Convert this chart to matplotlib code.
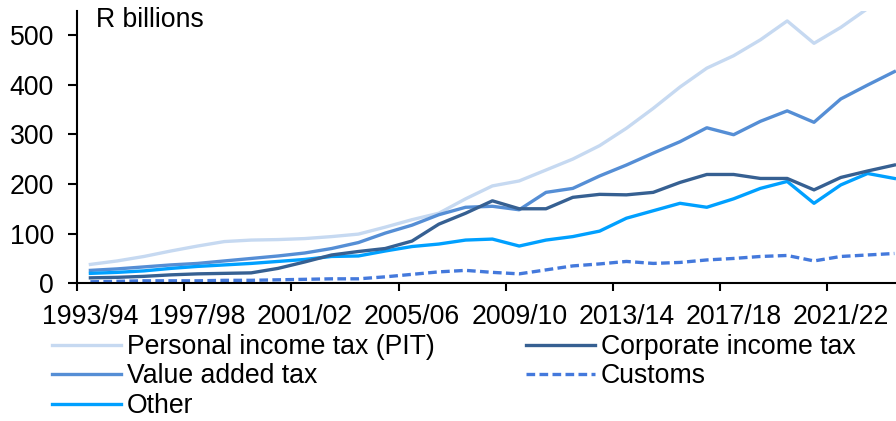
import matplotlib
matplotlib.use("Agg")
import matplotlib.pyplot as plt
import numpy as np

plt.rcParams['font.family'] = ['Liberation Sans', 'DejaVu Sans']

# Tax revenue by type, R billions, 1993/94 - 2023/24
years = [f"{y}/{str(y + 1)[-2:]}" for y in range(1993, 2024)]

pit = [38, 45, 54, 65, 75, 84, 87, 88, 90, 94, 99, 113, 128, 141, 170, 196,
       206, 228, 250, 277, 312, 352, 395, 433, 458, 490, 528, 483, 515, 553, 600]
cit = [11, 12, 14, 17, 19, 20, 21, 30, 43, 57, 64, 70, 85, 119, 141, 166,
       150, 150, 173, 179, 178, 183, 203, 219, 219, 211, 211, 188, 213, 226, 238]
vat = [26, 29, 33, 37, 40, 45, 50, 55, 61, 70, 82, 101, 117, 138, 153, 155,
       148, 183, 191, 216, 238, 262, 285, 313, 299, 326, 347, 324, 371, 399, 426]
customs = [3, 4, 5, 5, 5, 6, 6, 7, 8, 9, 9, 13, 18, 23, 26, 22,
           19, 27, 35, 39, 44, 40, 42, 47, 50, 54, 56, 45, 54, 57, 60]
other = [20, 22, 25, 30, 34, 37, 40, 44, 48, 54, 55, 65, 74, 79, 87, 89,
         75, 87, 94, 105, 131, 146, 161, 153, 170, 191, 205, 161, 198, 221, 211]

W, H = 896, 421
fig = plt.figure(figsize=(W / 100, H / 100), dpi=100)
# axis runs a little past the right edge of the figure
ax = fig.add_axes([77 / W, (H - 283.3) / H, 830.8 / W, 272.3 / H])

x = np.arange(len(years))
lw = 2.4
ax.plot(x, pit, color='#C6D9F1', lw=lw, label='Personal income tax (PIT)')
ax.plot(x, vat, color='#558ED5', lw=lw, label='Value added tax')
ax.plot(x, other, color='#00A0FF', lw=lw, label='Other')
ax.plot(x, cit, color='#366092', lw=lw, label='Corporate income tax')
ax.plot(x, customs, color='#4479DC', lw=lw, ls=(0, (2.6, 1.3)),
        dash_capstyle='butt', label='Customs')

ax.set_xlim(-0.5, len(years) - 0.5)
ax.set_ylim(0, 548)
ax.set_yticks(range(0, 501, 100))

# ticks sit between categories, labels on every fourth year
ax.set_xticks(np.arange(-0.5, len(years), 4))
ax.set_xticklabels([])
ax.set_xticks(x[::4], minor=True)
ax.set_xticklabels(years[::4], minor=True)

fs = 19.2
ax.tick_params(axis='x', which='major', direction='out', length=6, width=1.5)
ax.tick_params(axis='x', which='minor', length=0, pad=15, labelsize=fs)
ax.tick_params(axis='y', direction='out', length=6.5, width=1.5, pad=10,
               labelsize=fs)

for side in ['top', 'right']:
    ax.spines[side].set_visible(False)
for side in ['left', 'bottom']:
    ax.spines[side].set_linewidth(1.5)

ax.text(19 / 830.8, (283.3 - 27) / 272.3, 'R billions', transform=ax.transAxes,
        fontsize=fs, va='baseline', ha='left')

fig.legend(loc='upper left', bbox_to_anchor=(52 / W, (H - 334) / H), ncol=2,
           frameon=False, fontsize=fs, handlelength=2.6, handletextpad=0.22,
           columnspacing=3.4, labelspacing=0.13, borderpad=0, borderaxespad=0)

fig.savefig('out.png', dpi=100)
